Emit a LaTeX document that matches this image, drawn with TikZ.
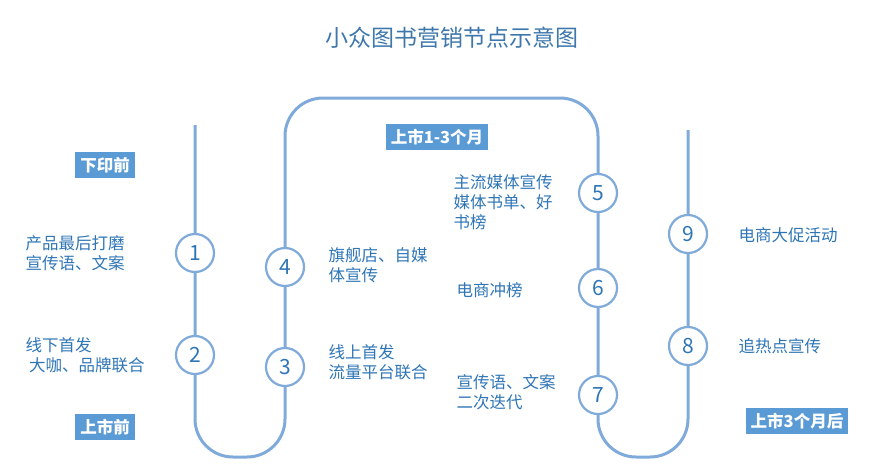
\documentclass[tikz,border=0pt]{standalone}
\usepackage{fontspec}
\setmainfont{Noto Sans CJK SC}
\begin{document}
\begin{tikzpicture}[x=1pt,y=-1pt,
  trk/.style={draw=lb,line width=3pt},
  num/.style={circle,draw=lb,line width=2.2pt,fill=white,minimum size=38pt,inner sep=0pt,font=\fontsize{21}{21}\selectfont,text=tb},
  lab/.style={font=\fontsize{16.5}{20}\selectfont,text=tb,align=left},
  tag/.style={fill=bb,text=white,font=\bfseries\fontsize{16.5}{18}\selectfont,inner sep=5pt}]
\definecolor{lb}{HTML}{7FAADA}\definecolor{tb}{HTML}{2E75B6}\definecolor{bb}{HTML}{5B9BD5}
\useasboundingbox (0,0) rectangle (883,469);
\node[font=\fontsize{23}{25}\selectfont,text=tb!80!gray] (t) at (452,38) {小众图书营销节点示意图};
\draw[trk,rounded corners=38pt] (195,125) -- (195,457) -- (285,457) -- (285,98) -- (598,98) -- (598,457) -- (688,457) -- (688,130);
\node[num] (n1) at (195,253) {1};
\node[num] (n2) at (195,355) {2};
\node[num] (n3) at (285,367) {3};
\node[num] (n4) at (285,267) {4};
\node[num] (n5) at (598,193) {5};
\node[num] (n6) at (598,288) {6};
\node[num] (n7) at (598,395) {7};
\node[num] (n8) at (688,346) {8};
\node[num] (n9) at (688,234) {9};
\node[tag] (a) at (105,165) {下印前};
\node[tag] (b) at (105,427) {上市前};
\node[tag] (c) at (437,137) {上市1-3个月};
\node[tag] (d) at (797,421) {上市3个月后};
\node[lab,anchor=west] (l1) at (22,253) {产品最后打磨\\宣传语、文案};
\node[lab,anchor=west] (l2) at (22,355) {线下首发\\\ 大咖、品牌联合};
\node[lab,anchor=west] (l4) at (325,265) {旗舰店、自媒\\体宣传};
\node[lab,anchor=west] (l3) at (325,362) {线上首发\\流量平台联合};
\node[lab,anchor=west] (l5) at (450,202) {主流媒体宣传\\媒体书单、好\\书榜};
\node[lab,anchor=west] (l6) at (453,290) {电商冲榜};
\node[lab,anchor=west] (l7) at (453,392) {宣传语、文案\\二次迭代};
\node[lab,anchor=west] (l9) at (735,235) {电商大促活动};
\node[lab,anchor=west] (l8) at (735,346) {追热点宣传};
\end{tikzpicture}
\end{document}
